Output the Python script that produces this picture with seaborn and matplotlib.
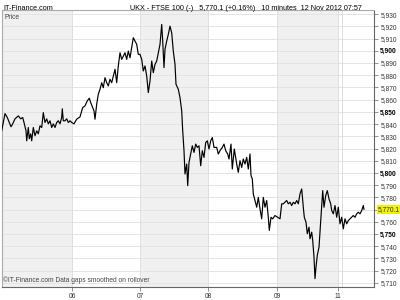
import matplotlib
matplotlib.use("Agg")
import matplotlib.pyplot as plt
import seaborn as sns
import pandas as pd

# ---- data (time position in bar units, FTSE 100 price) ----
t = [1.7, 5, 7.3, 9.3, 11, 12.7, 15, 18.3, 20.7, 22.7, 24, 26, 26.7, 28.3, 29.3, 30.7, 31.7, 33.3, 35,
     36.7, 38.3, 40, 41.7, 43.3, 45, 46.7, 48.3, 50, 51.7, 53.3, 55, 56.7, 58.3, 60, 61.7, 62.3, 63.3,
     65, 66.7, 68.3, 70, 71.7, 74, 76.7, 80, 82.7, 85, 87.3, 89.3, 90.7, 92.7, 94, 95, 96.7, 98.3, 100,
     101.7, 103.3, 105, 106.7, 108.3, 110, 111.7, 113.3, 115, 116.7, 118.3, 120, 121.7, 123.3, 125,
     126.7, 128.3, 130, 131.7, 133.3, 135, 136.7, 138.3, 140, 141.7, 143.3, 145, 146.7, 148.3, 150,
     151.7, 153.3, 155, 156.7, 158.3, 160, 161.7, 162.7, 164, 165, 166.7, 168.3, 170, 171.7, 173.3,
     175, 176, 178.3, 180, 181.7, 182.7, 184, 185, 186.7, 187.7, 189, 190.7, 192.3, 194, 195.7, 197.3,
     199, 200.7, 202.3, 204, 205.7, 207.3, 209, 210.7, 212.3, 214, 216.7, 218.3, 220, 222.3, 224,
     225.7, 227.7, 229, 231, 232.3, 234.3, 236.7, 238.3, 240, 241.7, 243.3, 245, 246.7, 248.3, 250,
     251, 252.3, 253.3, 255, 256.7, 258.3, 260, 261.7, 263.3, 265, 266.7, 268.3, 269.3, 271, 272.7,
     275, 277.7, 280, 281.7, 283.3, 285, 286.7, 288.3, 290, 291.7, 293.3, 295, 296.7, 298.3, 300,
     301.7, 303.3, 304.3, 306, 307.3, 309, 310, 311.7, 312.7, 314, 315, 316, 317.3, 319, 320.7, 321.7,
     322.7, 324, 325.7, 327.3, 329, 330.7, 331.7, 333.3, 335, 336.7, 338.3, 340, 341.7, 343.3, 345,
     346.7, 348.3, 350, 351.7, 353.3, 355, 356.7, 358.3, 360, 361.7, 363.3, 364]
price = [5834.5, 5848.6, 5845.4, 5841.3, 5837.8, 5840.2, 5844.3, 5846.7, 5844.3, 5845.4, 5841.3,
         5834.5, 5826.3, 5837.2, 5828.0, 5832.0, 5826.3, 5837.2, 5830.4, 5834.5, 5832.0, 5838.6,
         5837.2, 5849.4, 5841.3, 5844.3, 5840.2, 5842.7, 5837.2, 5840.2, 5837.2, 5841.3, 5842.7,
         5840.2, 5845.4, 5852.5, 5842.7, 5842.7, 5844.3, 5841.3, 5842.7, 5841.3, 5840.2, 5844.0,
         5845.9, 5853.5, 5854.9, 5859.0, 5861.2, 5857.6, 5853.5, 5850.8, 5844.0, 5856.3, 5864.5,
         5868.5, 5873.9, 5869.8, 5878.0, 5873.9, 5871.2, 5876.7, 5873.9, 5879.4, 5884.9, 5873.9,
         5887.6, 5898.4, 5893.0, 5895.7, 5898.4, 5893.0, 5899.8, 5894.3, 5902.5, 5910.7, 5908.0,
         5905.3, 5897.1, 5897.1, 5893.0, 5883.5, 5887.6, 5879.4, 5865.8, 5875.3, 5891.6, 5882.1,
         5888.9, 5891.6, 5898.4, 5905.3, 5921.6, 5908.0, 5886.2, 5901.2, 5908.0, 5913.4, 5920.2,
         5914.7, 5899.8, 5888.9, 5872.6, 5868.5, 5861.7, 5850.8, 5834.5, 5818.2, 5799.1, 5807.3,
         5789.6, 5808.6, 5815.5, 5822.2, 5816.8, 5823.6, 5820.9, 5822.2, 5805.9, 5818.2, 5812.7,
         5824.9, 5826.3, 5819.6, 5826.3, 5829.0, 5820.9, 5820.9, 5815.5, 5818.2, 5820.9, 5823.6,
         5818.2, 5815.5, 5811.4, 5823.6, 5803.2, 5819.6, 5807.3, 5800.5, 5810.0, 5804.5, 5811.4,
         5807.3, 5812.7, 5803.2, 5815.5, 5797.8, 5795.1, 5782.8, 5777.4, 5771.9, 5780.0, 5770.6,
         5762.4, 5780.0, 5771.9, 5777.4, 5763.7, 5752.9, 5763.7, 5762.4, 5765.1, 5763.7, 5762.4,
         5774.7, 5774.7, 5776.0, 5777.4, 5774.7, 5776.0, 5773.3, 5776.0, 5774.7, 5777.4, 5774.7,
         5782.8, 5786.9, 5771.9, 5763.7, 5759.6, 5750.2, 5755.6, 5746.1, 5751.5, 5744.7, 5731.1,
         5713.4, 5722.9, 5732.5, 5739.2, 5761.0, 5774.7, 5785.5, 5771.9, 5781.4, 5785.5, 5778.7,
         5774.7, 5769.2, 5766.5, 5773.3, 5763.7, 5771.9, 5758.3, 5763.7, 5754.2, 5762.4, 5758.3,
         5761.0, 5762.4, 5763.7, 5765.1, 5763.7, 5766.5, 5767.8, 5766.5, 5769.2, 5773.3, 5770.1]

day_starts = [72, 140, 208, 277, 338]
day_labels = ["06", "07", "08", "09", "11"]
shaded_days = [(2, 72), (140, 208), (277, 338)]
y_ticks = list(range(5710, 5931, 10))
last_price = 5770.1

df = pd.DataFrame({"t": t, "price": price})

sns.set_theme(style="white")
plt.rcParams['font.family'] = ['Liberation Sans', 'DejaVu Sans']

fig = plt.figure(figsize=(4, 3), dpi=100)
ax = fig.add_axes([0.005, 0.043, 0.93, 0.924])

for a, b in shaded_days:
    ax.axvspan(a, b, color="#f0f0f0", lw=0, zorder=0)
for yv in y_ticks:
    ax.axhline(yv, color="#e4e4e4", lw=0.7, zorder=1)
for xv in day_starts:
    ax.axvline(xv, color="#e0e0e0", lw=0.7, zorder=1)
ax.axvline(341.5, color="#dcdcdc", lw=0.7, zorder=1)

sns.lineplot(data=df, x="t", y="price", ax=ax, estimator=None, sort=False,
             color="black", lw=0.85, zorder=3)

ax.set_xlim(2, 374)
ax.set_ylim(5706.5, 5933.5)
ax.set_xlabel("")
ax.set_ylabel("")

ax.yaxis.tick_right()
ax.set_yticks(y_ticks)
# the 5,770 label is covered by the last-price marker in the reference
ylabels = ["" if abs(v - last_price) < 5 else f"{v:,}" for v in y_ticks]
ax.set_yticklabels(ylabels)
for lab, v in zip(ax.get_yticklabels(), y_ticks):
    lab.set_fontsize(4.8)
    lab.set_color("#333333")
    if v % 50 == 0:
        lab.set_fontweight("bold")
        lab.set_color("black")
ax.set_xticks(day_starts)
ax.set_xticklabels(day_labels, fontsize=4.8, color="#333333")
ax.tick_params(axis="y", which="both", right=True, length=3, width=0.5, color="#666666", pad=1.5)
ax.tick_params(axis="x", which="both", bottom=True, length=3, width=0.5, color="#666666", pad=1.5)

for side in ["left", "top"]:
    ax.spines[side].set_color("#aaaaaa")
    ax.spines[side].set_linewidth(0.8)
for side in ["right", "bottom"]:
    ax.spines[side].set_color("#666666")
    ax.spines[side].set_linewidth(0.8)

ax.annotate(f"{last_price:,.1f}", xy=(1.0, last_price), xycoords=("axes fraction", "data"),
            xytext=(3, 0), textcoords="offset points", ha="left", va="center",
            fontsize=4.8, color="#333333",
            bbox=dict(boxstyle="square,pad=0.15", fc="#f2f200", ec="none"))

ax.text(0.006, 0.985, "Price", transform=ax.transAxes, ha="left", va="top",
        fontsize=4.8, color="#444444")
ax.text(0.004, 0.012, "©IT-Finance.com Data gaps smoothed on rollover", transform=ax.transAxes,
        ha="left", va="bottom", fontsize=4.8, color="#444444")

fig.text(0.008, 0.983, "IT-Finance.com", ha="left", va="top", fontsize=5.2, color="black")
fig.text(0.325, 0.983, "UKX - FTSE 100 (-)   5,770.1 (+0.16%)   10 minutes  12 Nov 2012 07:57",
         ha="left", va="top", fontsize=5.2, color="black")

fig.savefig("out.png", dpi=100)
